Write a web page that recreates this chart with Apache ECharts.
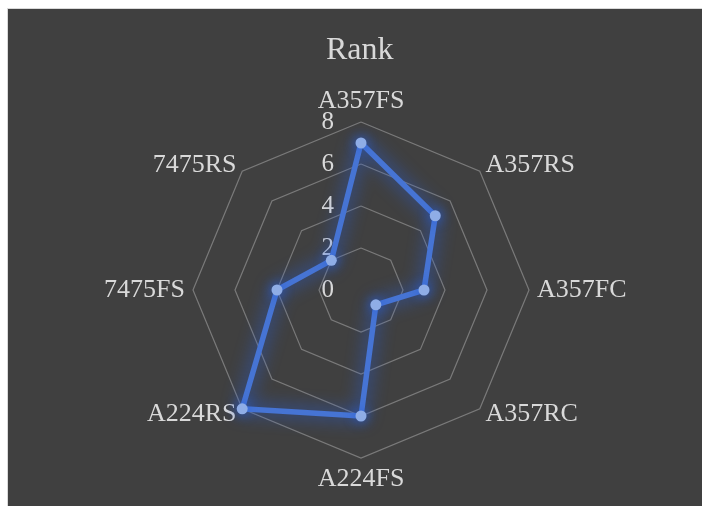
<!DOCTYPE html>
<html>
<head>
<meta charset="utf-8">
<script src="https://cdn.jsdelivr.net/npm/echarts@6/dist/echarts.min.js"></script>
<style>
    html, body { margin: 0; padding: 0; background: #fff; }
    #main {
        position: absolute; left: 7px; top: 8px;
        width: 694px; height: 497px;
        border-left: 1px solid #d9d9d9; border-top: 1px solid #d9d9d9;
        background: #404040;
    }
</style>
</head>
<body>
<div id="main"></div>
<script>
    // 指标（Excel 顺时针顺序）
    var indicators = ['A357FS', 'A357RS', 'A357FC', 'A357RC', 'A224FS', 'A224RS', '7475FS', '7475RS'];
    var rankValues = [7, 5, 3, 1, 6, 8, 4, 2];
    var tickLabels = [0, 2, 4, 6, 8];

    var font = "'Liberation Serif', 'Times New Roman', serif";
    var textColor = '#d9d9d9';
    var maxValue = tickLabels[tickLabels.length - 1];

    // ECharts 雷达图为逆时针排列，这里首项之后倒序以得到顺时针效果
    var order = [0];
    for (var i = indicators.length - 1; i > 0; i--) {
        order.push(i);
    }
    var radarIndicator = order.map(function (i) {
        return { name: indicators[i], max: maxValue, min: 0 };
    });
    var radarData = order.map(function (i) {
        return rankValues[i];
    });

    var myChart = echarts.init(document.getElementById('main'));

    var option = {
        animation: false,
        title: {
            text: 'Rank',
            left: 313,
            top: 21,
            textStyle: {
                color: textColor,
                fontFamily: font,
                fontSize: 32,
                fontWeight: 'normal'
            }
        },
        radar: {
            center: [353, 281],
            radius: 168,
            startAngle: 90,
            splitNumber: tickLabels.length - 1,
            shape: 'polygon',
            nameGap: 8,
            axisName: {
                color: textColor,
                fontFamily: font,
                fontSize: 26
            },
            axisLine: { show: false },
            axisTick: { show: false },
            axisLabel: { show: false },
            splitArea: { show: false },
            splitLine: {
                lineStyle: { color: '#7a7a7a', width: 1.2 }
            },
            indicator: radarIndicator
        },
        // 用于显示 0-8 刻度标签的纵轴
        grid: {
            left: 353,
            top: 281 - 168,
            width: 1,
            height: 168
        },
        xAxis: { type: 'value', show: false },
        yAxis: {
            type: 'value',
            min: tickLabels[0],
            max: maxValue,
            interval: tickLabels[1] - tickLabels[0],
            axisLine: { show: false },
            axisTick: { show: false },
            splitLine: { show: false },
            axisLabel: {
                margin: 27,
                color: textColor,
                fontFamily: font,
                fontSize: 25,
                padding: [4, 0, 0, 0]
            }
        },
        series: [{
            type: 'radar',
            symbol: 'circle',
            symbolSize: 11,
            lineStyle: {
                color: '#4674d4',
                width: 5.5,
                shadowColor: 'rgba(40,95,220,1)',
                shadowBlur: 18
            },
            itemStyle: {
                color: '#8fade6',
                shadowColor: 'rgba(40,95,220,1)',
                shadowBlur: 12
            },
            data: [{ value: radarData, name: 'Rank' }]
        }]
    };

    myChart.setOption(option);
</script>
</body>
</html>
